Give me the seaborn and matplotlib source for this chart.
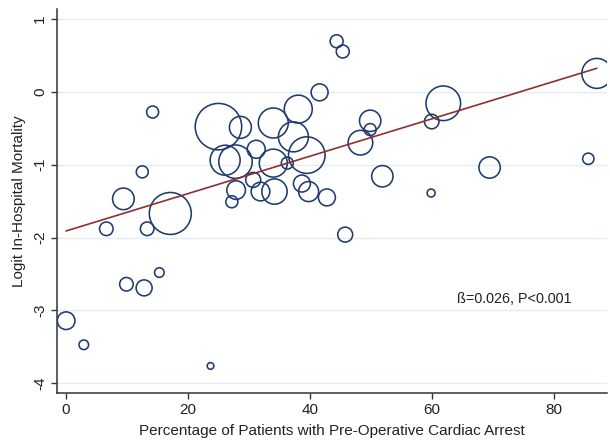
import numpy as np
import pandas as pd
import matplotlib
matplotlib.use("Agg")
import matplotlib.pyplot as plt
import seaborn as sns

# Study-level data
pct_arrest = [0.0, 2.9, 23.7, 6.6, 9.4, 12.5, 14.2, 13.3, 17.1, 9.9,
              12.8, 15.3, 25.0, 28.6, 26.1, 27.8, 31.2, 30.7, 27.9, 27.2,
              31.9, 34.2, 34.0, 34.0, 38.1, 37.3, 36.3, 39.5, 38.7, 39.8,
              42.8, 41.6, 44.4, 45.4, 45.8, 48.3, 49.9, 49.9, 51.9, 59.9,
              60.0, 61.9, 69.5, 85.7, 87.1]
logit_mort = [-3.14, -3.47, -3.76, -1.88, -1.47, -1.10, -0.28, -1.88, -1.67, -2.64,
              -2.69, -2.48, -0.48, -0.49, -0.94, -0.96, -0.79, -1.21, -1.35, -1.51,
              -1.37, -1.37, -0.98, -0.43, -0.24, -0.62, -0.98, -0.87, -1.26, -1.37,
              -1.45, -0.01, 0.69, 0.55, -1.96, -0.70, -0.40, -0.52, -1.16, -1.39,
              -0.41, -0.16, -1.04, -0.92, 0.25]
# study weight (bubble area)
weight = [78, 23, 11, 46, 117, 36, 36, 46, 441, 46,
          64, 23, 540, 121, 225, 280, 81, 56, 87, 36,
          87, 160, 196, 225, 196, 225, 36, 335, 72, 100,
          72, 72, 42, 42, 56, 152, 114, 36, 114, 16,
          53, 300, 114, 32, 225]

intercept = -1.91
slope = 0.0256
fit_x = [0.0, 87.1]

df = pd.DataFrame({"pct": pct_arrest, "logit": logit_mort, "w": weight})
fit = pd.DataFrame({"x": fit_x})
fit["y"] = intercept + slope * fit["x"]

sns.set_theme(style="white")
plt.rcParams["font.family"] = ["Liberation Sans", "DejaVu Sans"]
plt.rcParams["axes.unicode_minus"] = False

fig = plt.figure(figsize=(6.1, 4.44), dpi=100)
ax = fig.add_axes([0.0934, 0.115, 0.902, 0.865])

navy = "#1f3b6f"
maroon = "#8c3030"

wmax = max(weight)
sns.scatterplot(data=df, x="pct", y="logit", size="w",
                sizes=(0, 2.07 * wmax), size_norm=(0, wmax),
                facecolor="none", edgecolor=navy, linewidth=1.15,
                legend=False, ax=ax, zorder=3)
sns.lineplot(data=fit, x="x", y="y", color=maroon, linewidth=1.2, ax=ax, zorder=4)

ax.set_xlim(-1.5, 88.8)
ax.set_ylim(-4.13, 1.134)
ax.set_xticks([0, 20, 40, 60, 80])
ax.set_yticks([-4, -3, -2, -1, 0, 1])
ax.yaxis.grid(True, color="#e4ecf0", linewidth=1.0)
ax.set_axisbelow(True)

for side in ["top", "right"]:
    ax.spines[side].set_visible(False)
for side in ["left", "bottom"]:
    ax.spines[side].set_color("#333333")
    ax.spines[side].set_linewidth(1.1)

ax.tick_params(axis="both", which="major", direction="out", length=4,
               width=1, color="#333333", labelsize=11, labelcolor="#222222", pad=3)
ax.tick_params(axis="y", left=True)
ax.tick_params(axis="x", bottom=True)
for lab in ax.get_yticklabels():
    lab.set_rotation(90)
    lab.set_va("center")

ax.set_xlabel("Percentage of Patients with Pre-Operative Cardiac Arrest",
              fontsize=11, color="#222222", labelpad=5)
ax.set_ylabel("Logit In-Hospital Mortality", fontsize=11, color="#222222", labelpad=5)

ax.text(64.2, -2.84, "ß=0.026, P<0.001", fontsize=10.4, color="#222222",
        ha="left", va="center")

fig.savefig("out.png", dpi=100)
